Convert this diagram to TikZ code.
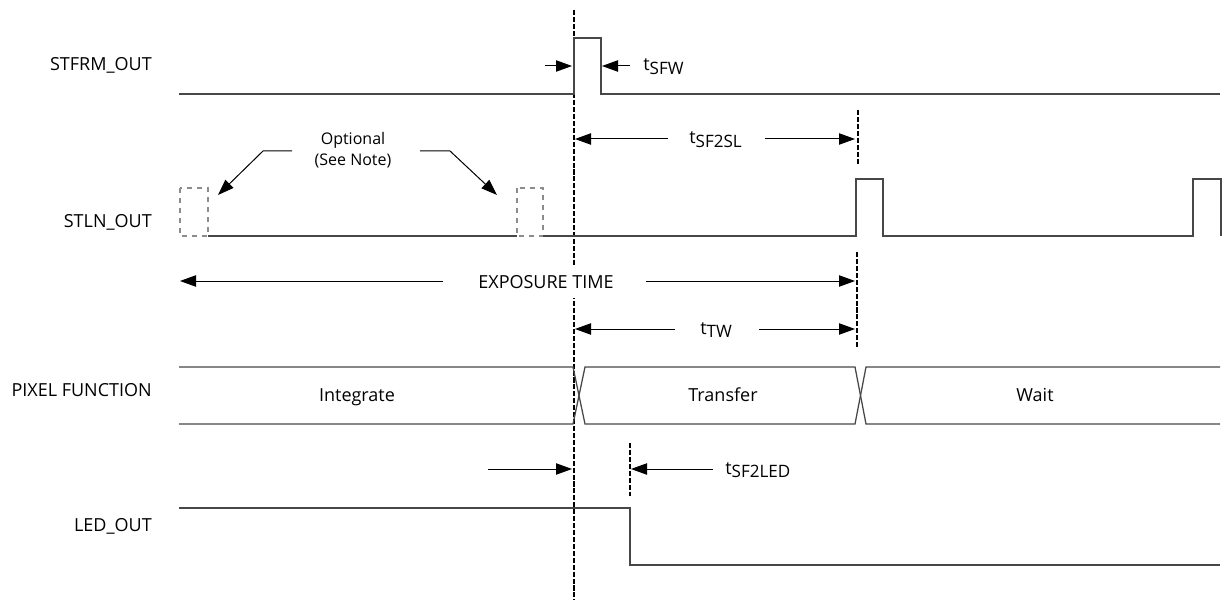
\documentclass[tikz,border=0pt]{standalone}
\usepackage{fontspec}
\setmainfont{Open Sans}
\usepackage{tikz}
\usetikzlibrary{arrows.meta}
\tikzstyle{sig}=[draw=black!72,line width=0.95pt,line join=miter]
\tikzstyle{opt}=[draw=black!45,line width=0.85pt,dash pattern=on 4pt off 3.5pt]
\tikzstyle{vmark}=[draw=black,line width=0.9pt,dash pattern=on 3.8pt off 1.4pt]
\tikzstyle{arr}=[-{Triangle[length=12pt,width=8.5pt]},draw=black,line width=0.75pt]
\tikzstyle{signame}=[anchor=base east,inner sep=0pt,font=\fontsize{13.5}{16}\selectfont]
\tikzstyle{txt}=[anchor=base,inner sep=0pt,font=\fontsize{13.5}{16}\selectfont]
\tikzstyle{tlbl}=[anchor=base west,inner sep=0pt,font=\fontsize{13.5}{16}\selectfont]
\newcommand{\tsub}[1]{t\raisebox{-2.5pt}{\fontsize{12.8}{15}\selectfont #1}}

\begin{document}
\begin{tikzpicture}[x=0.75pt,y=-0.75pt]
  \useasboundingbox (0,0) rectangle (1226,602);
  %Markers
  \draw[vmark] (574,10) -- (574,600);
  \draw[vmark] (858,110) -- (858,164);
  \draw[vmark] (857,252) -- (857,347);
  \draw[vmark] (630,443) -- (630,496);

  %Nodes
  \node[signame] (stfrm) at (152,71) {STFRM\_OUT};
  \node[signame] (stln)  at (152,228) {STLN\_OUT};
  \node[signame] (pix)   at (152,396) {PIXEL FUNCTION};
  \node[signame] (led)   at (152,531) {LED\_OUT};
  \node[txt,fill=white,inner xsep=2pt,inner ysep=7pt] (exp) at (546,288) {EXPOSURE TIME};
  \node[txt] (integ) at (357,401) {Integrate};
  \node[txt] (trans) at (723,401) {Transfer};
  \node[txt] (wait)  at (1035,401) {Wait};
  \node[inner sep=0pt,align=center,font=\fontsize{12}{16}\selectfont] (note) at (353,150) {Optional\\(See Note)};
  \node[tlbl] (sfw)   at (643,71) {\tsub{SFW}};
  \node[tlbl] (sf2sl) at (689,144) {\tsub{SF2SL}};
  \node[tlbl] (tw)    at (700,334) {\tsub{TW}};
  \node[tlbl] (sfled) at (725,474) {\tsub{SF2LED}};
  %Coordinates
  \coordinate (sfwA) at (545,66);  \coordinate (sfwB) at (572,66);
  \coordinate (sfwC) at (630,66);  \coordinate (sfwD) at (602,66);
  \coordinate (slA) at (668,139);  \coordinate (slB) at (575,139);
  \coordinate (slC) at (765,139);  \coordinate (slD) at (855,139);
  \coordinate (exA) at (443,281);  \coordinate (exB) at (180,281);
  \coordinate (exC) at (646,281);  \coordinate (exD) at (855,281);
  \coordinate (twA) at (675,329);  \coordinate (twB) at (575,329);
  \coordinate (twC) at (759,329);  \coordinate (twD) at (855,329);
  \coordinate (ldA) at (488,469);  \coordinate (ldB) at (572,469);
  \coordinate (ldC) at (713,469);  \coordinate (ldD) at (631,469);
  \coordinate (opA) at (292,151);  \coordinate (opB) at (263,151);  \coordinate (opC) at (218,195);
  \coordinate (opD) at (420,151);  \coordinate (opE) at (450,151);  \coordinate (opF) at (497,195);

  %Signals
  \draw[sig] (179,94) -- (574,94) -- (574,38) -- (601,38) -- (601,94) -- (1220,94);
  \draw[opt] (180,188) rectangle (208,236);
  \draw[opt] (517,188) rectangle (543,236);
  \draw[sig] (208,236) -- (517,236);
  \draw[sig] (543,236) -- (856,236) -- (856,179) -- (883,179) -- (883,236)
    -- (1193,236) -- (1193,179) -- (1221,179) -- (1221,236);
  \draw[sig] (179,367) -- (573,367) -- (585,424) -- (855,424) -- (866,367) -- (1220,367);
  \draw[sig] (179,424) -- (573,424) -- (585,367) -- (855,367) -- (866,424) -- (1220,424);
  \draw[sig] (179,508) -- (630,508) -- (630,565) -- (1220,565);

  %Lines
  \draw[arr] (sfwA) -- (sfwB);
  \draw[arr] (sfwC) -- (sfwD);
  \draw[arr] (slA) -- (slB);
  \draw[arr] (slC) -- (slD);
  \draw[arr] (exA) -- (exB);
  \draw[arr] (exC) -- (exD);
  \draw[arr] (twA) -- (twB);
  \draw[arr] (twC) -- (twD);
  \draw[arr] (ldA) -- (ldB);
  \draw[arr] (ldC) -- (ldD);
  \draw[arr] (opA) -- (opB) -- (opC);
  \draw[arr] (opD) -- (opE) -- (opF);
\end{tikzpicture}
\end{document}
